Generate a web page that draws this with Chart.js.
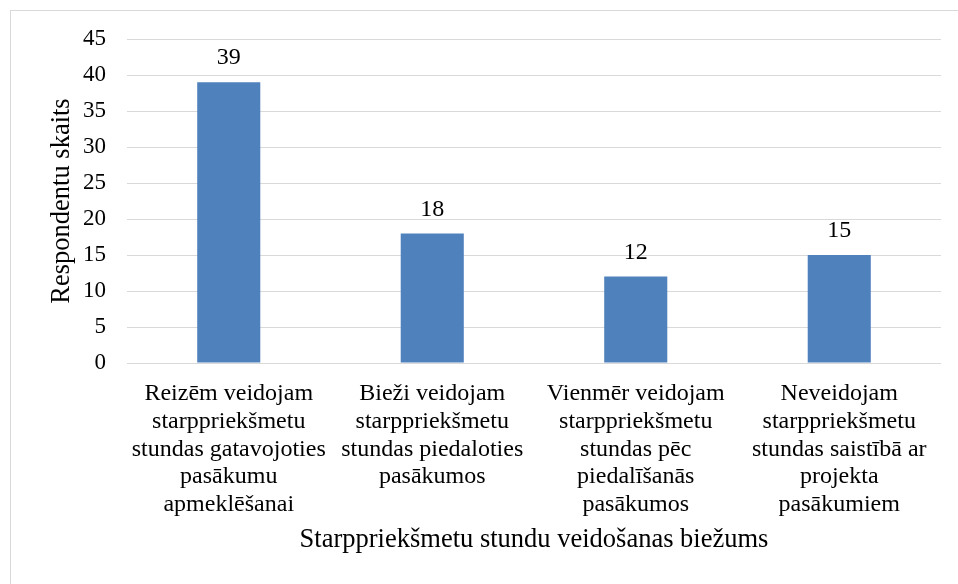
<!DOCTYPE html>
<html>
<head>
<meta charset="utf-8">
<script src="https://cdn.jsdelivr.net/npm/chart.js@4.4.1/dist/chart.umd.min.js"></script>
<style>
  html, body { margin: 0; padding: 0; background: #fff; }
  #wrap { position: relative; width: 958px; height: 584px; overflow: hidden; }
  #frame { position: absolute; left: 10px; top: 10px; width: 960px; height: 600px;
           border-left: 1px solid #D9D9D9; border-top: 1px solid #D9D9D9; box-sizing: border-box; }
  canvas { position: absolute; left: 0; top: 0; }
</style>
</head>
<body>
<div id="wrap">
  <div id="frame"></div>
  <canvas id="c" width="958" height="584"></canvas>
</div>
<script>
const categories = [
  ["Reizēm veidojam", "starppriekšmetu", "stundas gatavojoties", "pasākumu", "apmeklēšanai"],
  ["Bieži veidojam", "starppriekšmetu", "stundas piedaloties", "pasākumos"],
  ["Vienmēr veidojam", "starppriekšmetu", "stundas pēc", "piedalīšanās", "pasākumos"],
  ["Neveidojam", "starppriekšmetu", "stundas saistībā ar", "projekta", "pasākumiem"]
];
const values = [39, 18, 12, 15];
const yTitle = "Respondentu skaits";
const xTitle = "Starppriekšmetu stundu veidošanas biežums";
const yMin = 0, yMax = 45, yStep = 5;

const FONT = "'Liberation Serif', 'Times New Roman', serif";

const labelPlugin = {
  id: 'barLabels',
  afterDatasetsDraw(chart) {
    const ctx = chart.ctx;
    const meta = chart.getDatasetMeta(0);
    ctx.save();
    ctx.font = "24px " + FONT;
    ctx.fillStyle = "#000";
    ctx.textAlign = "center";
    ctx.textBaseline = "middle";
    meta.data.forEach((bar, i) => {
      ctx.fillText(String(chart.data.datasets[0].data[i]), bar.x, bar.y - 24);
    });
    ctx.restore();
  }
};

new Chart(document.getElementById('c'), {
  type: 'bar',
  data: {
    labels: categories,
    datasets: [{
      data: values,
      backgroundColor: '#4F81BD',
      borderWidth: 0,
      barPercentage: 0.31,
      categoryPercentage: 1.0
    }]
  },
  options: {
    responsive: false,
    animation: false,
    devicePixelRatio: 1,
    layout: { padding: { left: 10, top: 39, right: 17, bottom: 0 } },
    plugins: { legend: { display: false }, tooltip: { enabled: false } },
    scales: {
      y: {
        min: yMin, max: yMax,
        ticks: { stepSize: yStep, padding: 21, color: '#000', font: { family: FONT, size: 23 } },
        grid: { color: '#D9D9D9', lineWidth: 1, drawTicks: false },
        border: { display: false },
        title: { display: true, text: yTitle, color: '#000', font: { family: FONT, size: 26.5, lineHeight: 1.2 }, padding: { top: 36, bottom: 0 } },
        afterFit(scale) { scale.width = 117; }
      },
      x: {
        ticks: { color: '#000', padding: 17, maxRotation: 0, autoSkip: false, font: { family: FONT, size: 24, lineHeight: 1.156 } },
        grid: { display: false, drawTicks: false },
        border: { display: false },
        title: { display: true, text: xTitle, color: '#000', font: { family: FONT, size: 26.5, lineHeight: 1.2 }, padding: { top: 0, bottom: 28 } },
        afterFit(scale) { scale.height = 221; }
      }
    }
  },
  plugins: [labelPlugin]
});
</script>
</body>
</html>
